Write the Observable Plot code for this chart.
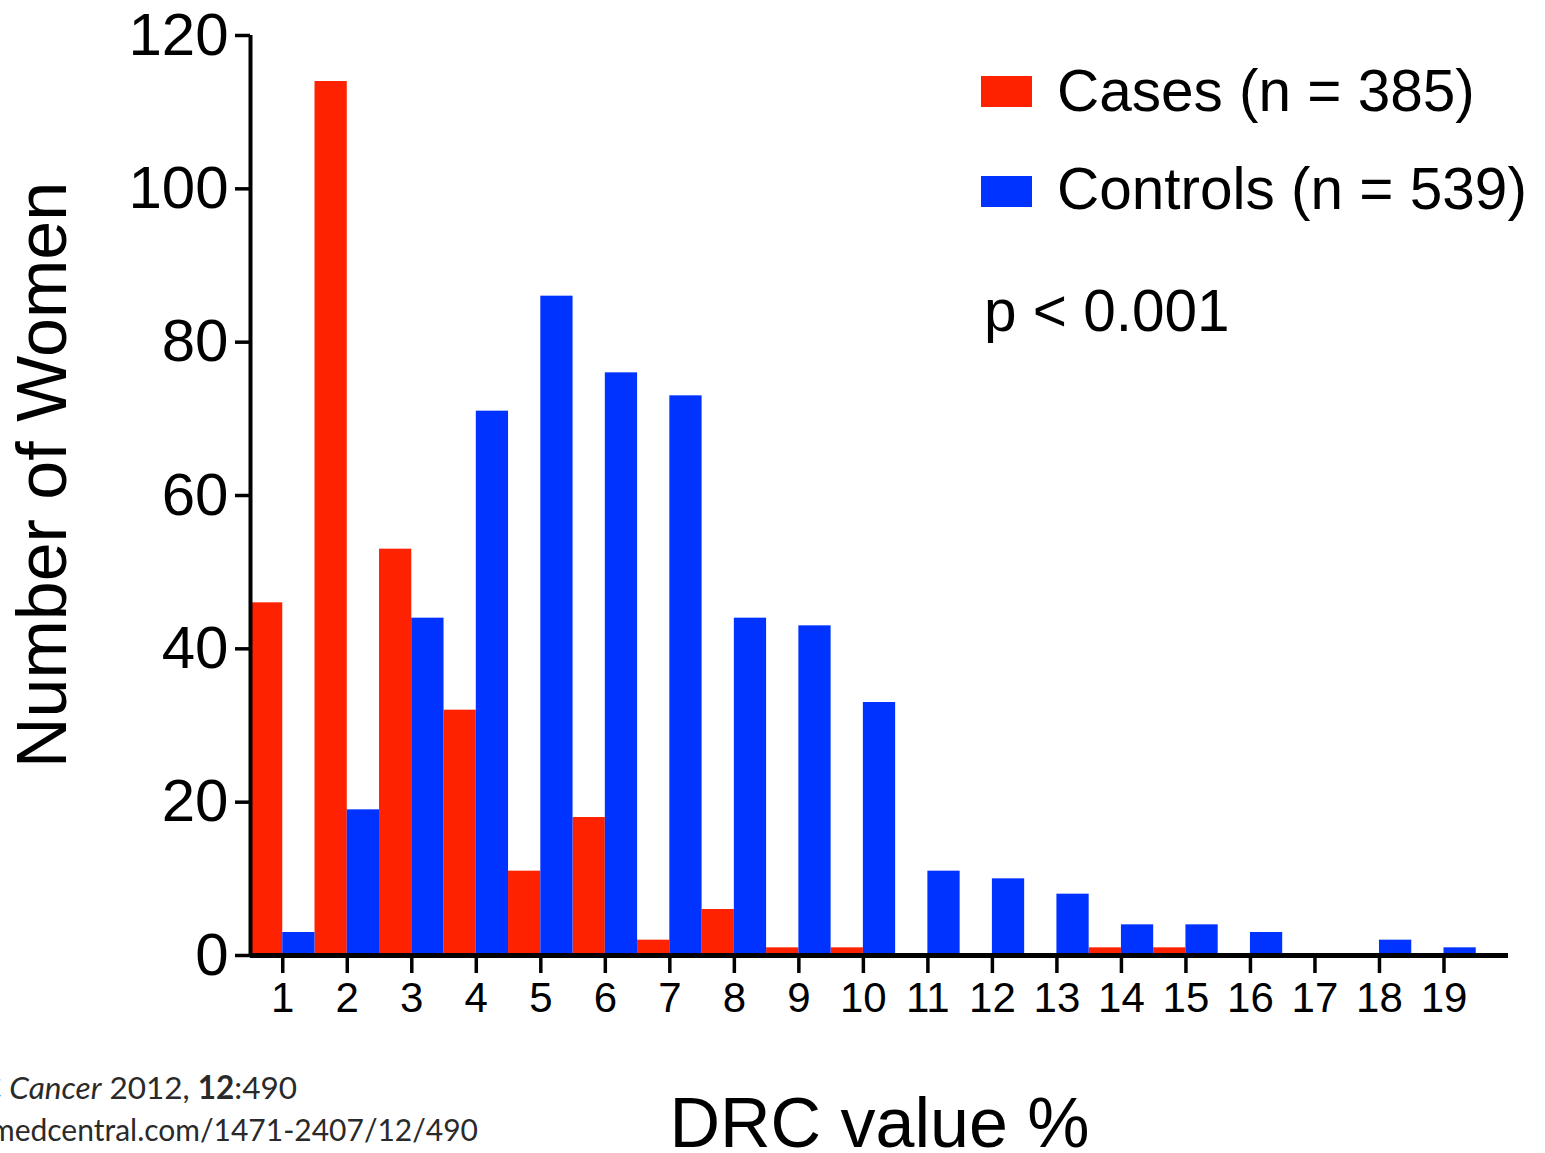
<!DOCTYPE html>
<html>
<head>
<meta charset="utf-8">
<script src="https://cdn.jsdelivr.net/npm/d3@7"></script>
<script src="https://cdn.jsdelivr.net/npm/@observablehq/plot@0.6"></script>
<style>
  html, body { margin: 0; padding: 0; background: #fff; }
  #wrap { position: relative; width: 1545px; height: 1153px; overflow: hidden; font-family: "Liberation Sans", Arial, sans-serif; }
  #wrap svg { position: absolute; left: 0; top: 0; }
  .abs { position: absolute; white-space: nowrap; line-height: 1; }
  .leg { font-size: 58.5px; color: #000; }
  .sw { position: absolute; width: 51px; height: 31px; }
  .cap { font-family: Lato, "Open Sans", sans-serif; font-size: 31.5px; color: #2a2a2a; }
  .cap2 { font-size: 30px; }
  .ylab { font-size: 70px; color: #000; transform: translate(-50%, -50%) rotate(-90deg); }
</style>
</head>
<body>
<div id="wrap"></div>
<script>
// ---- data ----
const drcValues = [1, 2, 3, 4, 5, 6, 7, 8, 9, 10, 11, 12, 13, 14, 15, 16, 17, 18, 19];
const cases    = [46, 114, 53, 32, 11, 18, 2, 6, 1, 1, 0, 0, 0, 1, 1, 0, 0, 0, 0];
const controls = [3, 19, 44, 71, 86, 76, 73, 44, 43, 33, 11, 10, 8, 4, 4, 3, 0, 2, 1];
const yTicks = [0, 20, 40, 60, 80, 100, 120];
const xTicks = drcValues;
const seriesNames = ["Cases (n = 385)", "Controls (n = 539)"];
const seriesColors = ["#ff2200", "#0033ff"];
const xDomain = [0.5, 20];
const yDomain = [0, 120];
const xLabel = "DRC value %";
const yLabel = "Number of Women";
const pText = "p < 0.001";

const caseRows = drcValues.map((k, i) => ({k, n: cases[i]}));
const controlRows = drcValues.map((k, i) => ({k, n: controls[i]}));

const plot = Plot.plot({
  width: 1545,
  height: 1153,
  marginLeft: 250,
  marginRight: 37,
  marginTop: 35,
  marginBottom: 198,
  style: {fontFamily: "'Liberation Sans', Arial, sans-serif", fontSize: "42px", color: "#000", background: "transparent", overflow: "visible"},
  x: {domain: xDomain},
  y: {domain: yDomain},
  marks: [
    Plot.rectY(caseRows, {x1: d => d.k - 0.5, x2: d => d.k, y1: 0, y2: "n", fill: seriesColors[0]}),
    Plot.rectY(controlRows, {x1: d => d.k, x2: d => d.k + 0.5, y1: 0, y2: "n", fill: seriesColors[1]}),
    Plot.axisY({ticks: yTicks, tickSize: 15, tickPadding: 7, fontSize: 60, strokeWidth: 3.5, label: null}),
    Plot.axisX({ticks: xTicks, tickSize: 18, tickPadding: 9, fontSize: 42, strokeWidth: 3.5, label: null}),
    Plot.ruleX([xDomain[0]], {strokeWidth: 4}),
    Plot.ruleY([yDomain[0]], {strokeWidth: 5}),
    Plot.text([xLabel], {frameAnchor: "bottom", dy: 169, fontSize: 70, lineAnchor: "middle", text: d => d})
  ]
});

const wrap = document.getElementById("wrap");
wrap.appendChild(plot);

// y-axis title
const yl = document.createElement("div");
yl.className = "abs ylab";
yl.style.left = "42px";
yl.style.top = "475px";
yl.textContent = yLabel;
wrap.appendChild(yl);

// legend (inside plot area, top right)
const legendTops = [62, 160];
const swatchTops = [76, 176];
seriesNames.forEach((name, i) => {
  const sw = document.createElement("div");
  sw.className = "sw";
  sw.style.left = "981px";
  sw.style.top = swatchTops[i] + "px";
  sw.style.background = seriesColors[i];
  wrap.appendChild(sw);
  const t = document.createElement("div");
  t.className = "abs leg";
  t.style.left = "1057px";
  t.style.top = legendTops[i] + "px";
  t.textContent = name;
  wrap.appendChild(t);
});
const p = document.createElement("div");
p.className = "abs leg";
p.style.left = "984px";
p.style.top = "282px";
p.textContent = pText;
wrap.appendChild(p);

// source caption (cut off at the left edge as in the original)
const c1 = document.createElement("div");
c1.className = "abs cap";
c1.style.right = (1545 - 297) + "px";
c1.style.top = "1072px";
c1.innerHTML = "BMC <i>Cancer</i> 2012, <b>12</b>:490";
wrap.appendChild(c1);
const c2 = document.createElement("div");
c2.className = "abs cap cap2";
c2.style.right = (1545 - 478) + "px";
c2.style.top = "1114px";
c2.textContent = "http://www.biomedcentral.com/1471-2407/12/490";
wrap.appendChild(c2);
</script>
</body>
</html>
